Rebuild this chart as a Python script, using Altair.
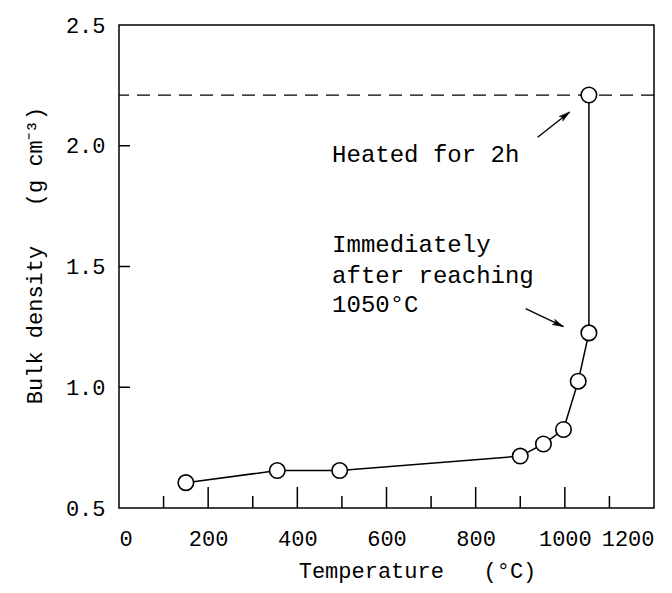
import altair as alt
import pandas as pd

# ---- data ----
temp = [150, 355, 495, 900, 952, 997, 1030, 1054, 1054]
dens = [0.605, 0.655, 0.655, 0.715, 0.765, 0.825, 1.025, 1.225, 2.21]
ref_level = [2.21]

x_major = [200, 400, 600, 800, 1000]
x_minor = [100, 300, 500, 700, 900, 1100]
y_ticks = [1.0, 1.5, 2.0]
x_labels = [0, 200, 400, 600, 800, 1000, 1200]
y_labels = [0.5, 1.0, 1.5, 2.0, 2.5]

note_text = ["Heated for 2h", "Immediately", "after reaching", "1050°C"]
note_x = [478, 478, 478, 478]
note_y = [1.962, 1.589, 1.461, 1.34]

arrow_x = [939, 912]
arrow_y = [2.035, 1.326]
arrow_x2 = [1011, 997]
arrow_y2 = [2.14, 1.251]
arrow_angle = [52, 115]

W, H = 535, 483
FONT = "Liberation Mono"
NB = "\u00a0"

df = pd.DataFrame({"T": temp, "D": dens, "order": list(range(len(temp)))})
ref_df = pd.DataFrame({"D": ref_level})
xmaj_df = pd.DataFrame({"T": x_major})
xmin_df = pd.DataFrame({"T": x_minor})
yt_df = pd.DataFrame({"D": y_ticks})
note_df = pd.DataFrame({"T": note_x, "D": note_y, "txt": note_text})
arr_df = pd.DataFrame({"T": arrow_x, "D": arrow_y, "T2": arrow_x2, "D2": arrow_y2, "ang": arrow_angle})

xscale = alt.Scale(domain=[0, 1200], nice=False, zero=False)
yscale = alt.Scale(domain=[0.5, 2.5], nice=False, zero=False)

xaxis = alt.Axis(values=x_labels, format="d", labelOverlap=False, ticks=False,
                 domain=False, grid=False,
                 labelFont=FONT, labelFontSize=22, labelColor="black", labelPadding=20,
                 title="Temperature" + NB * 3 + "(°C)", titleFont=FONT, titleFontSize=22,
                 titleFontWeight="normal", titleColor="black",
                 titleX=298, titleY=69, titleBaseline="alphabetic", titleAlign="center")
yaxis = alt.Axis(values=y_labels, format=".1f", labelOverlap=False, ticks=False,
                 domain=False, grid=False,
                 labelFont=FONT, labelFontSize=22, labelColor="black", labelPadding=14,
                 title="Bulk" + NB + "density" + NB * 3 + "(g" + NB + "cm⁻³)",
                 titleFont=FONT, titleFontSize=22,
                 titleFontWeight="normal", titleColor="black",
                 titleX=-78, titleY=230, titleAngle=-90, titleBaseline="alphabetic",
                 titleAlign="center")

X = lambda: alt.X("T:Q", scale=xscale, axis=xaxis)
Y = lambda: alt.Y("D:Q", scale=yscale, axis=yaxis)

line = alt.Chart(df).mark_line(color="black", strokeWidth=1.5).encode(
    x=X(), y=Y(), order="order:Q")
pts = alt.Chart(df).mark_point(shape="circle", filled=True, fill="white",
                               stroke="black", strokeWidth=1.6, size=240, opacity=1).encode(
    x=X(), y=Y())
dash = alt.Chart(ref_df).mark_rule(color="black", strokeWidth=1.3, strokeDash=[13, 8]).encode(
    y=Y())
tmaj = alt.Chart(xmaj_df).mark_rule(color="black", strokeWidth=1.5).encode(
    x=X(), y=alt.value(H), y2=alt.value(H - 21))
tmin = alt.Chart(xmin_df).mark_rule(color="black", strokeWidth=1.5).encode(
    x=X(), y=alt.value(H), y2=alt.value(H - 12))
ty = alt.Chart(yt_df).mark_rule(color="black", strokeWidth=1.5).encode(
    y=Y(), x=alt.value(0), x2=alt.value(11))
notes = alt.Chart(note_df).mark_text(font=FONT, fontSize=24, align="left",
                                     baseline="middle", color="black").encode(
    x=X(), y=Y(), text="txt:N")
arr_line = alt.Chart(arr_df).mark_rule(color="black", strokeWidth=1.4).encode(
    x=X(), y=Y(), x2="T2:Q", y2="D2:Q")
arr_head = alt.Chart(arr_df).mark_point(
    shape="M0,0 L0.45,1.7 L0,1.3 L-0.45,1.7 Z", filled=True, fill="black",
    stroke="black", strokeWidth=0.5, size=170, opacity=1).encode(
    x=alt.X("T2:Q", scale=xscale, axis=xaxis), y=alt.Y("D2:Q", scale=yscale, axis=yaxis),
    angle=alt.Angle("ang:Q", scale=None))

chart = alt.layer(dash, tmaj, tmin, ty, line, pts, arr_line, arr_head, notes).properties(
    width=W, height=H,
    autosize=alt.AutoSizeParams(type="none"),
    padding={"left": 111, "top": 17, "right": 10, "bottom": 77},
    background="white",
).configure_view(stroke="black", strokeWidth=1.5)

chart.save("out.html", embed_options={"renderer": "svg", "actions": False})
